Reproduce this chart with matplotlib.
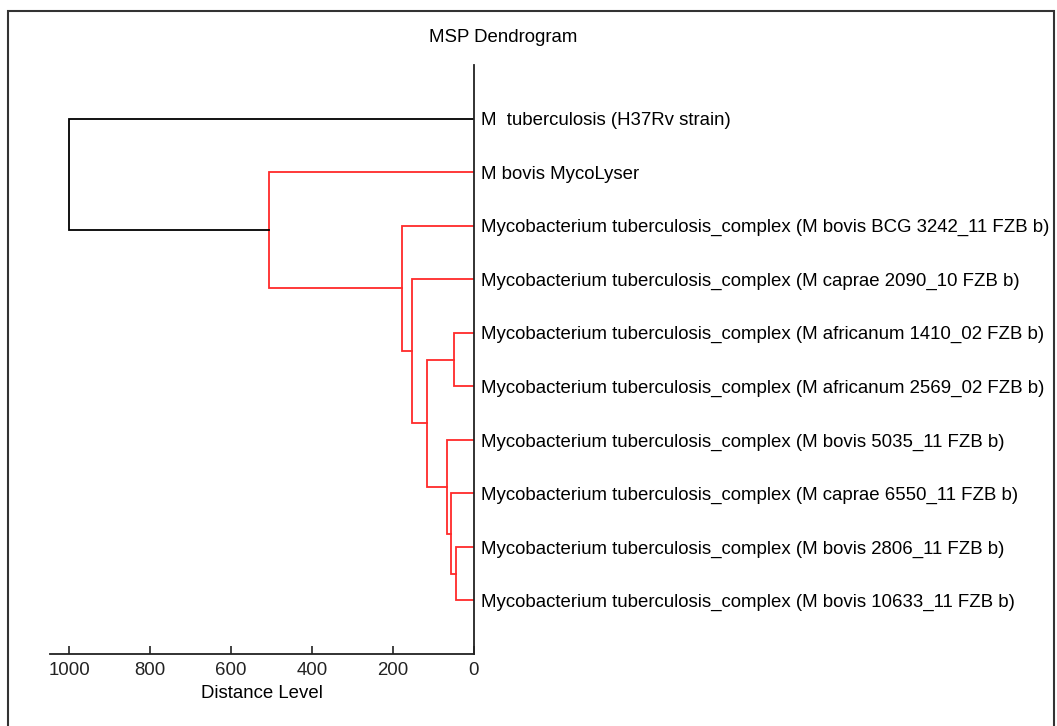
import matplotlib.pyplot as plt
from matplotlib.patches import Rectangle

# --- data ---
leaf_labels = [
    "M  tuberculosis (H37Rv strain)",
    "M bovis MycoLyser",
    "Mycobacterium tuberculosis_complex (M bovis BCG 3242_11 FZB b)",
    "Mycobacterium tuberculosis_complex (M caprae 2090_10 FZB b)",
    "Mycobacterium tuberculosis_complex (M africanum 1410_02 FZB b)",
    "Mycobacterium tuberculosis_complex (M africanum 2569_02 FZB b)",
    "Mycobacterium tuberculosis_complex (M bovis 5035_11 FZB b)",
    "Mycobacterium tuberculosis_complex (M caprae 6550_11 FZB b)",
    "Mycobacterium tuberculosis_complex (M bovis 2806_11 FZB b)",
    "Mycobacterium tuberculosis_complex (M bovis 10633_11 FZB b)",
]
# merges: (left child, right child, distance); leaves are 0..9, new nodes 10, 11, ...
merge_a = [8, 7, 4, 6, 12, 3, 2, 1, 0]
merge_b = [9, 10, 5, 11, 13, 14, 15, 16, 17]
merge_dist = [44, 57, 49, 66, 117, 153, 177, 506, 1000]
ticks = [1000, 800, 600, 400, 200, 0]

plt.rcParams['font.family'] = ['Liberation Sans', 'DejaVu Sans']
FS = 13.4

fig = plt.figure(figsize=(10.57, 7.26), dpi=100)
W, H = 1057, 726
ax = fig.add_axes([50 / W, 1 - 654 / H, (474 - 50) / W, (654 - 65) / H])

# node positions
pos = {i: (0.0, float(i)) for i in range(len(leaf_labels))}
n = len(leaf_labels)
for k, (a, b, d) in enumerate(zip(merge_a, merge_b, merge_dist)):
    xa, ya = pos[a]
    xb, yb = pos[b]
    color = 'black' if d > 600 else '#ff2a2a'
    ax.plot([xa, d, d, xb], [ya, ya, yb, yb], color=color, lw=1.3,
            solid_joinstyle='miter')
    pos[n + k] = (d, (ya + yb) / 2)

ax.set_xlim(1047, 0)
ax.set_ylim(10.0, -1.0)
for s in ['left', 'top']:
    ax.spines[s].set_visible(False)
ax.spines['bottom'].set_linewidth(1.3)
ax.spines['right'].set_linewidth(1.3)
ax.spines['bottom'].set_color('#222222')
ax.spines['right'].set_color('#222222')

ax.set_xticks(ticks)
ax.set_xticklabels([str(t) for t in ticks])
ax.tick_params(axis='x', direction='in', length=6, width=1.2, labelsize=FS, pad=6,
               colors='#222222')
ax.set_xlabel("Distance Level", fontsize=FS, labelpad=4)

ax.yaxis.tick_right()
ax.set_yticks(range(n))
ax.set_yticklabels(leaf_labels)
ax.tick_params(axis='y', length=0, labelsize=FS, pad=5)

fig.text(503 / W, 1 - 38 / H, "MSP Dendrogram", ha='center', va='center', fontsize=FS)

fig.patches.append(Rectangle((8 / W, -0.05), (1054 - 8) / W, 1.05 - 11 / H,
                             transform=fig.transFigure, fill=False,
                             edgecolor='#333333', lw=1.5))

plt.savefig("out.png", dpi=100)
